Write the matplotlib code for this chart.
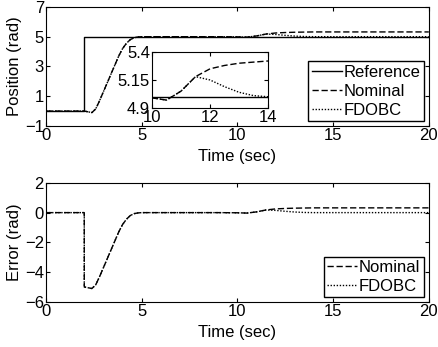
import numpy as np
import matplotlib
matplotlib.use('Agg')
import matplotlib.pyplot as plt

plt.rcParams['font.family'] = ['Liberation Sans', 'DejaVu Sans']
plt.rcParams['font.size'] = 12

# ── Data ──
t_ref = [0, 2, 2, 20]
pos_ref = [0, 0, 5, 5]

t_rise = [0, 2.0, 2.2, 2.4, 2.6, 2.8, 3.0, 3.2, 3.4, 3.6, 3.8, 4.0, 4.2, 4.4,
          4.6, 4.8, 5.0, 6.0, 7.0, 8.0, 9.0, 10.0, 10.5]
pos_rise = [0, 0.0, -0.05, -0.1, 0.15, 0.7, 1.3, 1.9, 2.5, 3.1, 3.7, 4.2, 4.55,
            4.8, 4.93, 4.98, 5.0, 5.0, 5.0, 5.0, 5.0, 4.99, 4.97]

t_tail = [10.5, 11.0, 11.5, 12.0, 12.5, 13.0, 13.5, 14.0, 16.0, 18.0, 20.0]
pos_nominal_tail = [4.97, 5.05, 5.18, 5.25, 5.28, 5.30, 5.31, 5.32, 5.32, 5.32, 5.32]
pos_fdobc_tail = [4.97, 5.05, 5.18, 5.15, 5.09, 5.04, 5.01, 5.0, 5.0, 5.0, 5.0]

t_err = [0, 2.0, 2.0, 2.2, 2.4, 2.6, 2.8, 3.0, 3.2, 3.4, 3.6, 3.8, 4.0, 4.2,
         4.4, 4.6, 4.8, 5.0, 6.0, 7.0, 8.0, 9.0, 10.0, 10.5]
err_rise = [0, 0, -5.0, -5.05, -5.1, -4.85, -4.3, -3.7, -3.1, -2.5, -1.9, -1.3,
            -0.8, -0.45, -0.2, -0.07, -0.02, 0.0, 0.0, 0.0, 0.0, 0.0, -0.01, -0.03]
err_nominal_tail = [-0.03, 0.05, 0.18, 0.25, 0.28, 0.30, 0.31, 0.32, 0.32, 0.32, 0.32]
err_fdobc_tail = [-0.03, 0.05, 0.18, 0.15, 0.09, 0.04, 0.01, 0.0, 0.0, 0.0, 0.0]

t_nom = t_rise + t_tail[1:]
pos_nom = pos_rise + pos_nominal_tail[1:]
pos_fd = pos_rise + pos_fdobc_tail[1:]
t_e = t_err + t_tail[1:]
err_nom = err_rise + err_nominal_tail[1:]
err_fd = err_rise + err_fdobc_tail[1:]

fig = plt.figure(figsize=(4.38, 3.47), dpi=100)

dash = (0, (4.5, 2))
dot = (0, (1, 1.2))
lw = 1.0


def style(ax):
    ax.tick_params(direction='in', top=True, right=True, length=3, pad=1.5)
    for s in ax.spines.values():
        s.set_linewidth(0.8)


leg_kw = dict(loc='lower right', bbox_to_anchor=(0.995, 0.01), fancybox=False,
              edgecolor='k', framealpha=1, handlelength=1.8, handletextpad=0.1,
              borderpad=0.2, labelspacing=0.25, borderaxespad=0.2)

# ── Top: position ──
ax1 = fig.add_axes([0.105, 0.637, 0.874, 0.343])
ax1.plot(t_ref, pos_ref, color='k', linestyle='-', linewidth=lw, label='Reference')
ax1.plot(t_nom, pos_nom, color='k', linestyle=dash, linewidth=lw, label='Nominal')
ax1.plot(t_nom, pos_fd, color='k', linestyle=dot, linewidth=lw, label='FDOBC')
ax1.set_xlim(0, 20)
ax1.set_ylim(-1, 7)
ax1.set_xticks([0, 5, 10, 15, 20])
ax1.set_yticks([-1, 1, 3, 5, 7])
ax1.set_xlabel('Time (sec)', labelpad=4)
ax1.set_ylabel('Position (rad)', labelpad=2)
style(ax1)
ax1.legend(**leg_kw)

# inset
axi = fig.add_axes([0.347, 0.689, 0.265, 0.161])
axi.plot(t_ref, pos_ref, color='k', linestyle='-', linewidth=lw)
axi.plot(t_nom, pos_nom, color='k', linestyle=dash, linewidth=lw)
axi.plot(t_nom, pos_fd, color='k', linestyle=dot, linewidth=lw)
axi.set_xlim(10, 14)
axi.set_ylim(4.9, 5.4)
axi.set_xticks([10, 12, 14])
axi.set_yticks([4.9, 5.15, 5.4])
axi.set_yticklabels(['4.9', '5.15', '5.4'])
style(axi)

# ── Bottom: error ──
ax2 = fig.add_axes([0.105, 0.130, 0.874, 0.343])
ax2.plot(t_e, err_nom, color='k', linestyle=dash, linewidth=lw, label='Nominal')
ax2.plot(t_e, err_fd, color='k', linestyle=dot, linewidth=lw, label='FDOBC')
ax2.set_xlim(0, 20)
ax2.set_ylim(-6, 2)
ax2.set_xticks([0, 5, 10, 15, 20])
ax2.set_yticks([-6, -4, -2, 0, 2])
ax2.set_xlabel('Time (sec)', labelpad=4)
ax2.set_ylabel('Error (rad)', labelpad=2)
style(ax2)
ax2.legend(**leg_kw)

fig.savefig('out.png', dpi=100)
